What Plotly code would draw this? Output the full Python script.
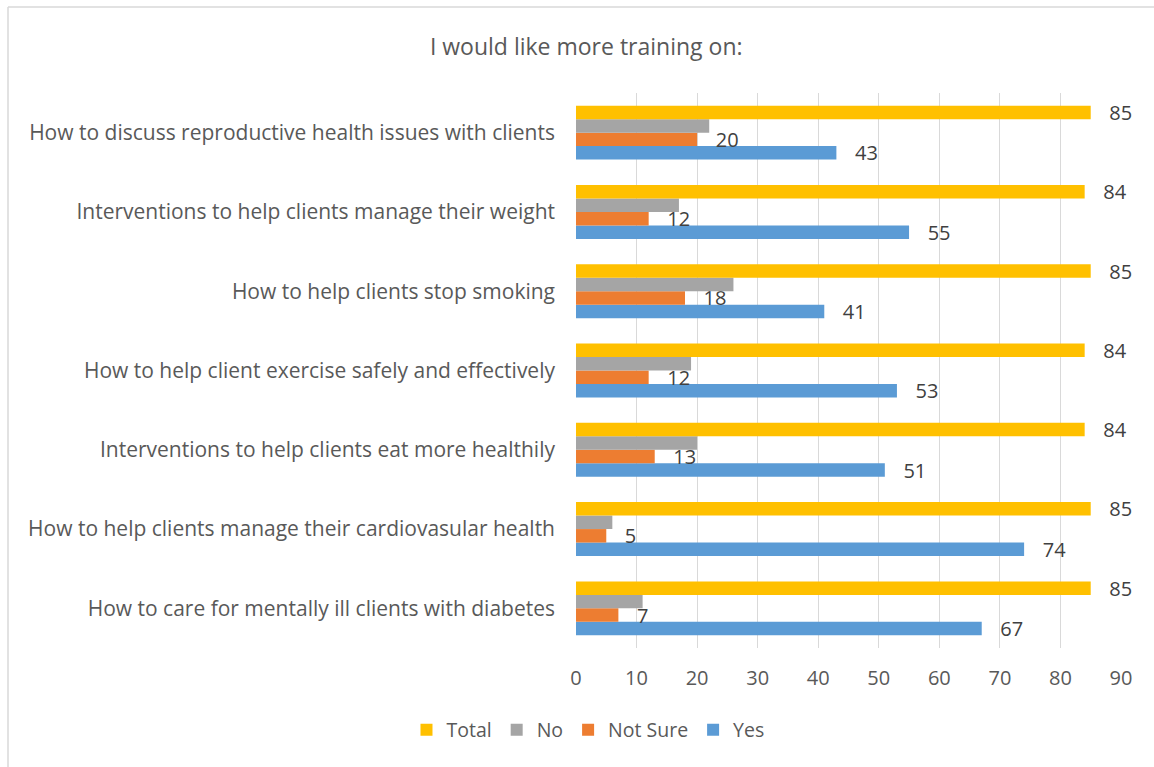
import plotly.graph_objects as go

# categories listed bottom-to-top (as plotted)
categories = [
    "How to care for mentally ill clients with diabetes",
    "How to help clients manage their cardiovasular health",
    "Interventions to help clients eat more healthily",
    "How to help client exercise safely and effectively",
    "How to help clients stop smoking",
    "Interventions to help clients manage their weight",
    "How to discuss reproductive health issues with clients",
]
yes_vals = [67, 74, 51, 53, 41, 55, 43]
not_sure_vals = [7, 5, 13, 12, 18, 12, 20]
no_vals = [11, 6, 20, 19, 26, 17, 22]
total_vals = [85, 85, 84, 84, 85, 84, 85]
x_ticks = [0, 10, 20, 30, 40, 50, 60, 70, 80, 90]

FONT = "Open Sans"
GREY = "#595959"
PAD = "\u00a0\u00a0\u00a0"

series = [
    ("Yes", yes_vals, "#5B9BD5", True),
    ("Not Sure", not_sure_vals, "#ED7D31", True),
    ("No", no_vals, "#A5A5A5", False),
    ("Total", total_vals, "#FFC000", True),
]

fig = go.Figure()
for name, vals, color, show in series:
    fig.add_trace(go.Bar(
        name=name, y=categories, x=vals, orientation="h",
        marker=dict(color=color, line=dict(width=0)),
        text=[PAD + str(v) for v in vals] if show else None,
        textposition="outside" if show else "none",
        textfont=dict(family=FONT, size=20, color="#404040"),
        constraintext="none", cliponaxis=False,
        hoverinfo="x+name",
    ))

fig.update_layout(
    width=1154, height=767,
    barmode="group", bargap=0.32, bargroupgap=0,
    paper_bgcolor="white", plot_bgcolor="white",
    margin=dict(l=576, r=33, t=93, b=119),
    font=dict(family=FONT, color=GREY, size=20),
    title=dict(text="I would like more training on:", x=0.508, xref="container",
               y=1 - 47 / 767, yref="container", xanchor="center", yanchor="middle",
               font=dict(family=FONT, size=23, color=GREY)),
    legend=dict(orientation="h", x=0.022, xanchor="center", y=-0.148, yanchor="middle",
                traceorder="reversed", font=dict(family=FONT, size=19.5, color=GREY),
                itemwidth=30),
    xaxis=dict(range=[0, 90], tickvals=x_ticks, showgrid=True, gridcolor="#D9D9D9",
               gridwidth=1.3, zeroline=False, showline=False,
               tickfont=dict(family=FONT, size=20, color=GREY), ticklabelstandoff=16),
    yaxis=dict(showgrid=False, zeroline=False, showline=False,
               tickfont=dict(family=FONT, size=21, color=GREY), ticklabelstandoff=20),
    shapes=[
        dict(type="line", xref="paper", yref="paper",
             x0=(8 - 576) / 545, x1=(1154 - 576) / 545 + 0.01,
             y0=(648 - 7) / 555, y1=(648 - 7) / 555,
             line=dict(color="#D9D9D9", width=1.5)),
        dict(type="line", xref="paper", yref="paper",
             x0=(8 - 576) / 545, x1=(8 - 576) / 545,
             y0=(648 - 7) / 555, y1=-0.3,
             line=dict(color="#D9D9D9", width=1.5)),
    ],
)

fig.write_html("out.html")
